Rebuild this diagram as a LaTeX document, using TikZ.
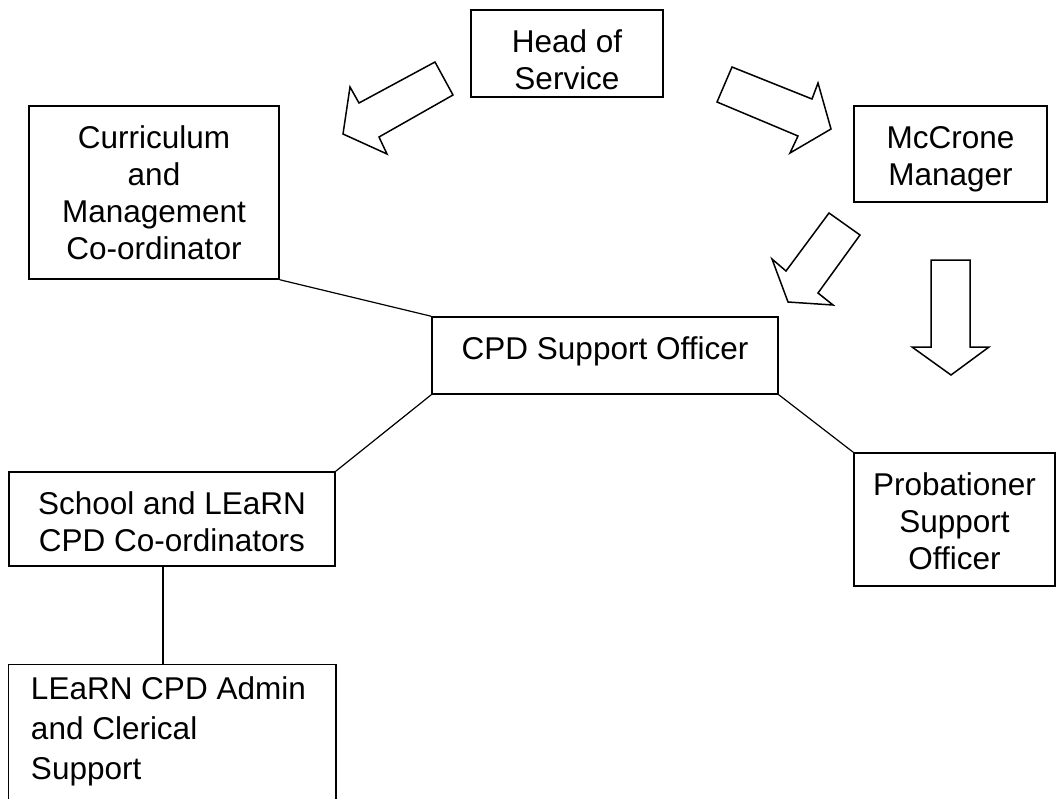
\documentclass[tikz,border=0pt]{standalone}
\usepackage{fontspec}
\setmainfont{Liberation Sans}
\usepackage{tikz}

% text set from the top of each box
\newcommand{\inbox}[3]{\parbox[c][#2pt][t]{#1pt}{\centering\vspace{17pt}\strut #3}}
\newcommand{\inboxl}[3]{\parbox[c][#2pt][t]{#1pt}{\raggedright\leftskip=22pt\relax\vspace{6pt}\strut #3}}

\begin{document}
\begin{tikzpicture}[x=1pt,y=-1pt,
  unit/.style={draw, line width=1.5pt, inner sep=0pt, font=\fontsize{31.5}{37}\selectfont},
  link/.style={line width=1.2pt},
  bigarrow/.style={draw, fill=white, line width=1.5pt, line join=miter}]
\useasboundingbox (0,0) rectangle (1057,798);

 \node[unit] (head) at (567,53.5) {\inbox{192}{87}{Head of\\Service}};
 \node[unit] (curric) at (154,192.5) {\inbox{250}{173}{Curriculum\\and\\Management\\Co-ordinator}};
 \node[unit] (mccrone) at (950.5,154) {\inbox{193}{96}{McCrone\\Manager}};
 \node[unit] (cpd) at (605,355.5) {\inbox{346}{77}{CPD Support Officer}};
 \node[unit] (school) at (172,519) {\inbox{326}{94}{School and LEaRN\\CPD Co-ordinators}};
 \node[unit] (probat) at (954.5,519.5) {\inbox{201}{133}{Probationer\\Support\\Officer}};
 \node[unit, draw=none, font=\fontsize{31.5}{40}\selectfont] (admin) at (172,731.5)
   {\inboxl{326}{133}{LEaRN CPD Admin\\and Clerical\\Support}};
 \draw[line width=1.5pt] (admin.south west) -- (admin.north west) -- (admin.north east) -- (admin.south east);

 % block arrows
 \filldraw[bigarrow] (435,62) -- (453,95) -- (379,137) -- (387,154) -- (343,134) -- (350,87) -- (359,103) -- cycle;
 \filldraw[bigarrow] (732,67) -- (812,99) -- (818,83) -- (831,129) -- (790,153) -- (798,136) -- (717,102) -- cycle;
 \filldraw[bigarrow] (829,213) -- (860,235) -- (818,293) -- (833,305) -- (788,302) -- (772,259) -- (786,271) -- cycle;
 \filldraw[bigarrow] (931,260) -- (970,260) -- (970,347) -- (989,347) -- (951,375) -- (912,347) -- (931,347) -- cycle;

 % plain links
 \draw[link] (curric.south east) -- (cpd.north west);
 \draw[link] (cpd.south west) -- (school.north east);
 \draw[link] (cpd.south east) -- (probat.north west);
 \draw[link] ([xshift=-9]school.south) -- ([xshift=-9]admin.north);
\end{tikzpicture}
\end{document}
